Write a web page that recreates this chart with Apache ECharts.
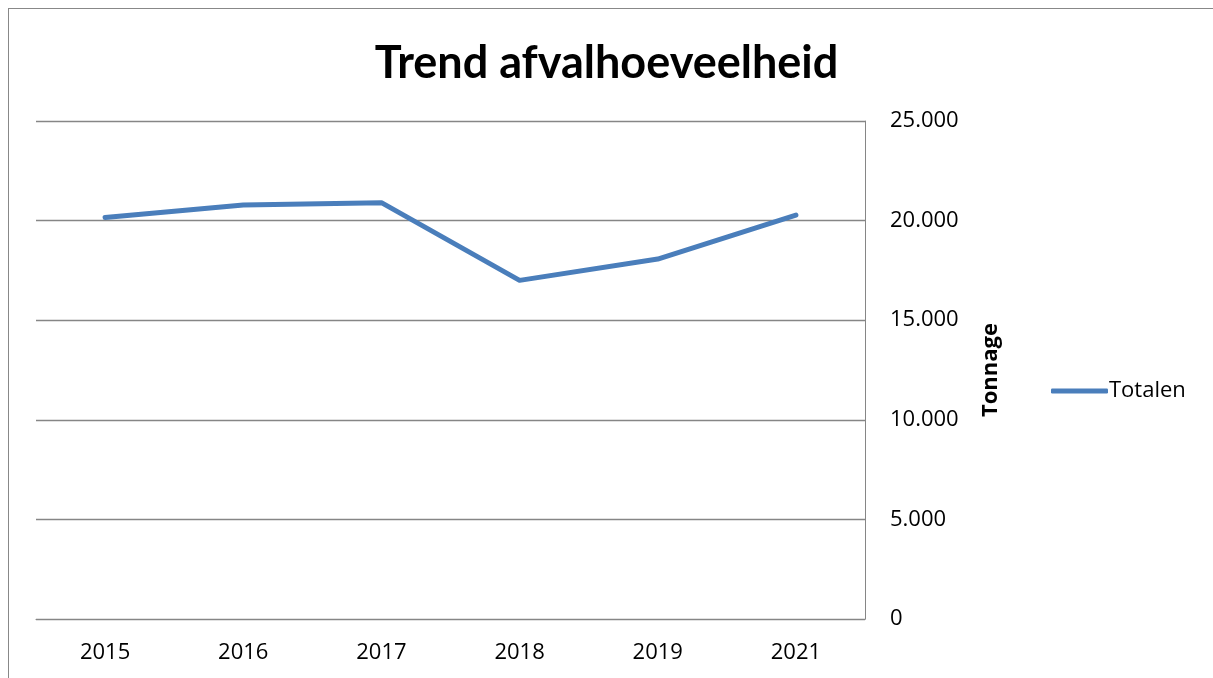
<!DOCTYPE html>
<html>
<head>
<meta charset="utf-8">
<script src="https://cdn.jsdelivr.net/npm/echarts@6/dist/echarts.min.js"></script>
<style>
  html, body { margin: 0; padding: 0; background: #fff; }
  #chart { width: 1213px; height: 678px; }
  #frame {
    position: absolute; left: 8px; top: 8px; right: -2px; bottom: -2px;
    border-left: 1px solid #888; border-top: 1px solid #888;
    pointer-events: none;
  }
</style>
</head>
<body>
<div id="chart"></div>
<div id="frame"></div>
<script>
// jaren en totalen (ton)
const years = ['2015', '2016', '2017', '2018', '2019', '2021']
const totalen = [20160, 20780, 20900, 17000, 18070, 20280]
const seriesName = 'Totalen'

const fmt = v => String(v).replace(/\B(?=(\d{3})+(?!\d))/g, '.')

let chart = echarts.init(document.getElementById('chart'))
chart.setOption({
  animation: false,
  title: {
    text: 'Trend afvalhoeveelheid',
    left: 'center',
    top: 36,
    textStyle: { fontFamily: 'Lato', fontWeight: 'bold', fontSize: 45, color: '#000' }
  },
  legend: {
    data: [seriesName],
    left: 1046,
    top: 375,
    icon: 'roundRect',
    itemWidth: 57,
    itemHeight: 5,
    itemGap: 0,
    textStyle: { fontFamily: 'Open Sans', fontSize: 22, color: '#000', padding: [0, 0, 0, -4] }
  },
  grid: { left: 36, right: 348, top: 121, bottom: 59 },
  xAxis: {
    type: 'category',
    data: years,
    boundaryGap: true,
    axisLine: { lineStyle: { color: '#868686', width: 1 } },
    axisTick: { show: false },
    axisLabel: { margin: 23, fontFamily: 'Open Sans', fontSize: 22, color: '#000' }
  },
  yAxis: {
    type: 'value',
    position: 'right',
    min: 0,
    max: 25000,
    interval: 5000,
    name: 'Tonnage',
    nameLocation: 'middle',
    nameRotate: 90,
    nameGap: 115,
    nameTextStyle: { fontFamily: 'Open Sans', fontWeight: 'bold', fontSize: 22, color: '#000' },
    axisLine: { show: true, lineStyle: { color: '#868686', width: 1 } },
    axisTick: { show: false },
    splitLine: { lineStyle: { color: '#868686', width: 1.3 } },
    axisLabel: {
      margin: 25,
      fontFamily: 'Open Sans', fontSize: 22, color: '#000',
      formatter: fmt
    }
  },
  series: [{
    name: seriesName,
    type: 'line',
    data: totalen,
    showSymbol: false,
    symbol: 'none',
    lineStyle: { color: '#4A7EBB', width: 5, cap: 'round', join: 'round' },
    itemStyle: { color: '#4A7EBB' }
  }]
})
</script>
</body>
</html>
